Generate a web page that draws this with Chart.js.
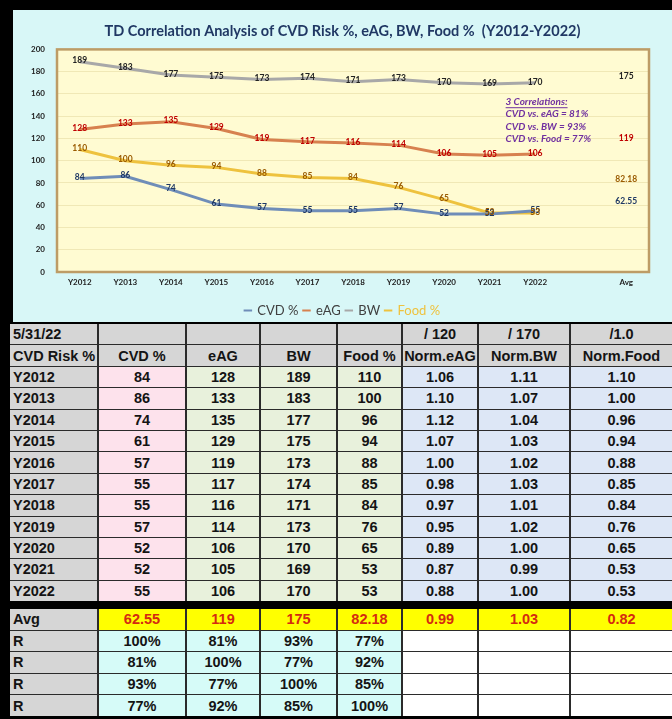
<!DOCTYPE html>
<html>
<head>
<meta charset="utf-8">
<script src="https://cdn.jsdelivr.net/npm/chart.js@4.4.0/dist/chart.umd.min.js"></script>
<style>
  html, body { margin: 0; padding: 0; background: #000; width: 672px; height: 719px; overflow: hidden; }
  #panel { position: absolute; left: 13px; top: 10px; width: 659px; height: 312px; background: #d8f7f7; overflow: hidden; }
  .grid {
    position: absolute; left: 10px; display: grid;
    grid-template-columns: 87px 86px 72px 75px 63px 74px 90px 101px;
    column-gap: 2px; row-gap: 1px; background: #2b2b2b;
    font-family: "Liberation Sans", Arial, sans-serif; font-weight: bold; font-size: 14.5px; color: #141414;
  }
  #t1 { top: 324px; grid-auto-rows: 20.4px; }
  #t2 { top: 609px; grid-auto-rows: 20.6px; }
  .grid div { display: flex; align-items: center; justify-content: center; white-space: nowrap; overflow: hidden; }
  .grid div.first { justify-content: flex-start; padding-left: 3px; background: #d6d6d6; }
  .hd { background: #d6d6d6; }
  .pink { background: #fde2ec; }
  .green { background: #e8f1dc; }
  .blue { background: #dde7f6; }
  .yellow { background: #ffff00; color: #d42a10; }
  .cyan { background: #d6fbf8; }
  .white { background: #fff; }
</style>
</head>
<body>
<div id="panel"><canvas id="corr_chart"></canvas></div>
<div class="grid" id="t1"></div>
<div class="grid" id="t2"></div>
<script>
const years = ["Y2012", "Y2013", "Y2014", "Y2015", "Y2016", "Y2017", "Y2018", "Y2019", "Y2020", "Y2021", "Y2022"];
const cvd = [84, 86, 74, 61, 57, 55, 55, 57, 52, 52, 55];
const eag = [128, 133, 135, 129, 119, 117, 116, 114, 106, 105, 106];
const bw = [189, 183, 177, 175, 173, 174, 171, 173, 170, 169, 170];
const food = [110, 100, 96, 94, 88, 85, 84, 76, 65, 53, 53];
const avgs = [62.55, 119, 175, 82.18];   // CVD, eAG, BW, Food

const normEag = [1.06, 1.10, 1.12, 1.07, 1.00, 0.98, 0.97, 0.95, 0.89, 0.87, 0.88];
const normBw = [1.11, 1.07, 1.04, 1.03, 1.02, 1.03, 1.01, 1.02, 1.00, 0.99, 1.00];
const normFood = [1.10, 1.00, 0.96, 0.94, 0.88, 0.85, 0.84, 0.76, 0.65, 0.53, 0.53];
const normAvgs = [0.99, 1.03, 0.82];
const corr = [
    [100, 81, 93, 77],
    [81, 100, 77, 92],
    [93, 77, 100, 85],
    [77, 92, 85, 100]
];
const yTicks = [0, 20, 40, 60, 80, 100, 120, 140, 160, 180, 200];
const notes = ["3 Correlations:", "CVD vs. eAG = 81%", "CVD vs. BW = 93%", "CVD vs. Food = 77%"];

// ---- table ----
function addRow(el, cells, classes) {
    cells.forEach((txt, i) => {
        const d = document.createElement("div");
        d.className = classes[i];
        d.textContent = txt;
        el.appendChild(d);
    });
}
const t1 = document.getElementById("t1");
const t2 = document.getElementById("t2");
const hdClasses = ["first", "hd", "hd", "hd", "hd", "hd", "hd", "hd"];
addRow(t1, ["5/31/22", "", "", "", "", "/ 120", "/ 170", "/1.0"], hdClasses);
addRow(t1, ["CVD Risk %", "CVD %", "eAG", "BW", "Food %", "Norm.eAG", "Norm.BW", "Norm.Food"], hdClasses);
years.forEach((y, i) => {
    addRow(t1, [y, cvd[i], eag[i], bw[i], food[i], normEag[i].toFixed(2), normBw[i].toFixed(2), normFood[i].toFixed(2)],
        ["first", "pink", "green", "green", "green", "blue", "blue", "blue"]);
});
addRow(t2, ["Avg", ...avgs.map(String), ...normAvgs.map(v => v.toFixed(2))],
    ["first", "yellow", "yellow", "yellow", "yellow", "yellow", "yellow", "yellow"]);
corr.forEach(r => {
    addRow(t2, ["R", ...r.map(v => v + "%"), "", "", ""],
        ["first", "cyan", "cyan", "cyan", "cyan", "white", "white", "white"]);
});

// ---- chart ----
const withAvg = (arr, avg) => [...arr, null, avg];
const fmt = v => (v % 1 === 0 ? String(v) : v.toFixed(2));

const plotBg = {
    id: "plotBg",
    beforeDraw(chart) {
        const { ctx, chartArea: a } = chart;
        ctx.save();
        ctx.fillStyle = "#fffbd2";
        ctx.fillRect(a.left, a.top, a.width, a.height);
        ctx.restore();
    },
    afterDraw(chart) {
        const { ctx, chartArea: a } = chart;
        ctx.save();
        ctx.strokeStyle = "#bd9c66";
        ctx.lineWidth = 2.5;
        ctx.strokeRect(a.left, a.top, a.width, a.height);
        ctx.restore();
    }
};

const valueLabels = {
    id: "valueLabels",
    afterDatasetsDraw(chart) {
        const ctx = chart.ctx;
        ctx.save();
        ctx.font = "bold 8.5px Lato";
        ctx.textAlign = "center";
        ctx.textBaseline = "middle";
        chart.data.datasets.forEach((ds, i) => {
            chart.getDatasetMeta(i).data.forEach((pt, j) => {
                const v = ds.data[j];
                if (v === null) return;
                ctx.fillStyle = ds.labelColor;
                ctx.fillText(fmt(v), pt.x, pt.y - 1);
            });
        });
        ctx.restore();
    }
};

const noteText = {
    id: "noteText",
    afterDatasetsDraw(chart) {
        const { ctx, scales: { x, y } } = chart;
        const left = x.getPixelForValue(9) + 16;
        const top = y.getPixelForValue(153);
        ctx.save();
        ctx.font = "italic bold 10px Lato";
        ctx.fillStyle = "#7030a0";
        ctx.strokeStyle = "#7030a0";
        ctx.textBaseline = "middle";
        notes.forEach((t, i) => {
            const ty = top + i * 12.5;
            ctx.fillText(t, left, ty);
            if (i === 0) {
                const w = ctx.measureText(t).width;
                ctx.lineWidth = 1;
                ctx.beginPath();
                ctx.moveTo(left, ty + 6);
                ctx.lineTo(left + w, ty + 6);
                ctx.stroke();
            }
        });
        ctx.restore();
    }
};

const ctx = document.getElementById("corr_chart");
const corr_chart = new Chart(ctx, {
    type: "line",
    data: {
        labels: [...years, "", "Avg"],
        datasets: [
            { label: "CVD %", data: withAvg(cvd, avgs[0]), borderColor: "#6f8db8", labelColor: "#1f3864" },
            { label: "eAG", data: withAvg(eag, avgs[1]), borderColor: "#d7814f", labelColor: "#c00000" },
            { label: "BW", data: withAvg(bw, avgs[2]), borderColor: "#a8a8a8", labelColor: "#222222" },
            { label: "Food %", data: withAvg(food, avgs[3]), borderColor: "#eec23e", labelColor: "#9a5b00" }
        ]
    },
    options: {
        responsive: true,
        maintainAspectRatio: false,
        animation: false,
        spanGaps: false,
        elements: {
            line: { borderWidth: 3, tension: 0 },
            point: { radius: 0, hoverRadius: 0 }
        },
        layout: { padding: { left: 0, right: 0, bottom: -5 } },
        plugins: {
            title: {
                display: true,
                text: "TD Correlation Analysis of CVD Risk %, eAG, BW, Food %  (Y2012-Y2022)",
                color: "#203864",
                font: { family: "Lato", size: 14.5, weight: "bold" },
                padding: { top: 13, bottom: 9 }
            },
            legend: {
                position: "bottom",
                labels: {
                    usePointStyle: true,
                    pointStyle: "line",
                    boxWidth: 6,
                    boxHeight: 6,
                    padding: 5,
                    font: { family: "Lato", size: 13 },
                    generateLabels(chart) {
                        const items = Chart.defaults.plugins.legend.labels.generateLabels(chart);
                        items.forEach(it => {
                            it.lineWidth = 2;
                            it.fontColor = it.text === "Food %" ? "#eec23e" : "#404040";
                        });
                        return items;
                    }
                }
            },
            tooltip: { enabled: false }
        },
        scales: {
            x: {
                offset: true,
                grid: { display: false, offset: true, tickLength: 6 },
                border: { display: false },
                ticks: { color: "#222", font: { family: "Lato", size: 8, weight: "bold" }, padding: 0, maxRotation: 0, autoSkip: false },
                afterFit(s) { s.height = 27; }
            },
            y: {
                min: 0,
                max: 200,
                afterBuildTicks(s) { s.ticks = yTicks.map(v => ({ value: v })); },
                grid: { color: "rgba(205, 190, 120, 0.3)", drawTicks: false },
                border: { display: false },
                ticks: { color: "#222", font: { family: "Lato", size: 8, weight: "bold" }, padding: 12 },
                afterFit(s) { s.width = 44; }
            },
            // empty right-hand margin so the title and legend stay centred on the panel
            yRight: {
                position: "right",
                min: 0,
                max: 200,
                grid: { display: false },
                border: { display: false },
                ticks: { display: false },
                afterFit(s) { s.width = 23; }
            }
        }
    },
    plugins: [plotBg, valueLabels, noteText]
});
</script>
</body>
</html>
